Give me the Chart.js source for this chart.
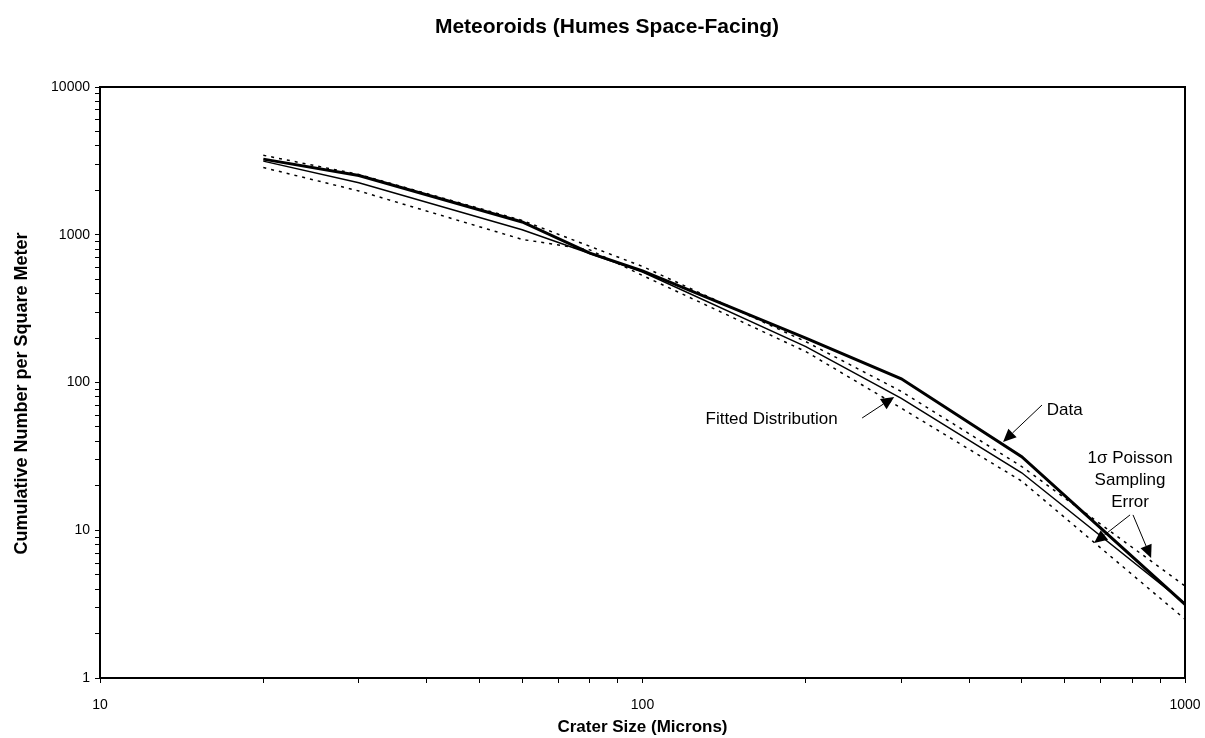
<!DOCTYPE html>
<html><head><meta charset="utf-8">
<script src="https://cdn.jsdelivr.net/npm/chart.js@4.4.0/dist/chart.umd.min.js"></script>
<style>html,body{margin:0;padding:0;background:#fff}#wrap{width:1205px;height:738px}</style>
</head><body><div id="wrap"><canvas id="c" width="1205" height="738"></canvas></div>
<script>
// ---- data (crater size in microns, cumulative number per m^2) ----
const dataSizes   = [20, 30, 60, 80, 100, 200, 300, 500, 1000];
const dataCounts  = [3250, 2520, 1220, 750, 570, 200, 106, 31.5, 3.15];
const fitSizes    = [20, 30, 60, 100, 200, 300, 500, 1000];
const fitCounts   = [3150, 2250, 1080, 560, 175, 78, 24.5, 3.2];
const upperSizes  = [20, 30, 60, 100, 200, 300, 500, 1000];
const upperCounts = [3450, 2560, 1250, 610, 189, 87, 27, 4.2];
const lowerSizes  = [20, 30, 60, 80, 100, 200, 300, 500, 1000];
const lowerCounts = [2850, 1980, 930, 790, 530, 162, 67, 21.5, 2.5];
const xMajorTicks = [10, 100, 1000];
const yMajorTicks = [1, 10, 100, 1000, 10000];

const chartTitle = 'Meteoroids (Humes Space-Facing)';
const xTitle = 'Crater Size (Microns)';
const yTitle = 'Cumulative Number per Square Meter';

// annotation anchors in data coordinates
const labelTexts = [
  {lines: ['Fitted Distribution'], x: 173, y: 56.6},
  {lines: ['Data'], x: 600, y: 65.2},
  {lines: ['1\u03C3 Poisson', 'Sampling', 'Error'], x: 792, y: 30.8}
];
const arrows = [
  {x0: 254, y0: 57.5, x1: 291, y1: 79.8},
  {x0: 545, y0: 70.4, x1: 462, y1: 39.6},
  {x0: 792, y0: 12.7, x1: 680, y1: 8.2},
  {x0: 802, y0: 12.7, x1: 866, y1: 6.49}
];

const FONT = "'Liberation Sans', Arial, Helvetica, sans-serif";
const pts = (xs, ys) => xs.map((x, i) => ({x: x, y: ys[i]}));
function logTicks(majors) {
  const out = [];
  for (let i = 0; i < majors.length - 1; i++) {
    for (let m = 1; m <= 9; m++) out.push({value: m * majors[i]});
  }
  out.push({value: majors[majors.length - 1]});
  return out;
}

const framePlugin = {
  id: 'frame',
  afterDatasetsDraw(chart) {
    const {ctx, chartArea: a, scales: {x, y}} = chart;
    ctx.save();
    ctx.strokeStyle = '#000';
    ctx.lineWidth = 2;
    ctx.strokeRect(a.left, a.top, a.right - a.left, a.bottom - a.top);
    ctx.fillStyle = '#000';
    ctx.textAlign = 'center';
    ctx.textBaseline = 'middle';
    // chart title
    ctx.font = 'bold 21px ' + FONT;
    ctx.fillText(chartTitle, 607, 27);
    // y axis title
    ctx.save();
    ctx.translate(22, (a.top + a.bottom) / 2 + 11);
    ctx.rotate(-Math.PI / 2);
    ctx.font = 'bold 18px ' + FONT;
    ctx.fillText(yTitle, 0, 0);
    ctx.restore();
    // annotations
    ctx.font = '17px ' + FONT;
    labelTexts.forEach(l => {
      const px = x.getPixelForValue(l.x), py = y.getPixelForValue(l.y);
      l.lines.forEach((t, i) => ctx.fillText(t, px, py + i * 22));
    });
    ctx.lineWidth = 1;
    arrows.forEach(ar => {
      const x0 = x.getPixelForValue(ar.x0), y0 = y.getPixelForValue(ar.y0);
      const x1 = x.getPixelForValue(ar.x1), y1 = y.getPixelForValue(ar.y1);
      const ang = Math.atan2(y1 - y0, x1 - x0);
      const L = 13, W = 6;
      const bx = x1 - L * Math.cos(ang), by = y1 - L * Math.sin(ang);
      ctx.beginPath(); ctx.moveTo(x0, y0); ctx.lineTo(bx, by); ctx.stroke();
      ctx.beginPath();
      ctx.moveTo(x1, y1);
      ctx.lineTo(bx + W * Math.sin(ang), by - W * Math.cos(ang));
      ctx.lineTo(bx - W * Math.sin(ang), by + W * Math.cos(ang));
      ctx.closePath(); ctx.fill();
    });
    ctx.restore();
  }
};

new Chart(document.getElementById('c'), {
  type: 'line',
  data: {
    datasets: [
      {label: 'Upper 1σ', data: pts(upperSizes, upperCounts), borderColor: '#000', borderWidth: 1.5, borderDash: [3, 5], pointRadius: 0, tension: 0, fill: false},
      {label: 'Lower 1σ', data: pts(lowerSizes, lowerCounts), borderColor: '#000', borderWidth: 1.5, borderDash: [3, 5], pointRadius: 0, tension: 0, fill: false},
      {label: 'Fitted Distribution', data: pts(fitSizes, fitCounts), borderColor: '#000', borderWidth: 1.5, pointRadius: 0, tension: 0, fill: false},
      {label: 'Data', data: pts(dataSizes, dataCounts), borderColor: '#000', borderWidth: 3, pointRadius: 0, tension: 0, fill: false}
    ]
  },
  options: {
    responsive: false,
    animation: false,
    devicePixelRatio: 1,
    layout: {padding: {left: 0, right: 20, top: 87, bottom: 0}},
    plugins: {
      legend: {display: false},
      tooltip: {enabled: false},
      title: {display: false}
    },
    scales: {
      x: {
        type: 'logarithmic',
        min: 10, max: 1000,
        afterBuildTicks: s => { s.ticks = logTicks(xMajorTicks); },
        afterFit: s => { s.height = 60; s.paddingLeft = 0; s.paddingRight = 0; },
        ticks: {
          autoSkip: false, maxRotation: 0, padding: 13.6, color: '#000',
          font: {family: FONT, size: 14},
          callback: v => xMajorTicks.includes(v) ? String(v) : ''
        },
        grid: {display: true, drawOnChartArea: false, drawTicks: true, tickLength: 5, color: '#000', lineWidth: 1},
        border: {display: false},
        title: {display: true, text: xTitle, color: '#000', font: {family: FONT, size: 17, weight: 'bold', lineHeight: 1.2}, padding: {top: 0, bottom: 0}}
      },
      y: {
        type: 'logarithmic',
        min: 1, max: 10000,
        afterBuildTicks: s => { s.ticks = logTicks(yMajorTicks); },
        afterFit: s => { s.width = 100; s.paddingTop = 0; s.paddingBottom = 0; },
        ticks: {
          autoSkip: false, padding: 5, color: '#000',
          font: {family: FONT, size: 14},
          callback: v => yMajorTicks.includes(v) ? String(v) : ''
        },
        grid: {display: true, drawOnChartArea: false, drawTicks: true, tickLength: 5, color: '#000', lineWidth: 1},
        border: {display: false},
        title: {display: false}
      }
    }
  },
  plugins: [framePlugin]
});
</script>
</body></html>
